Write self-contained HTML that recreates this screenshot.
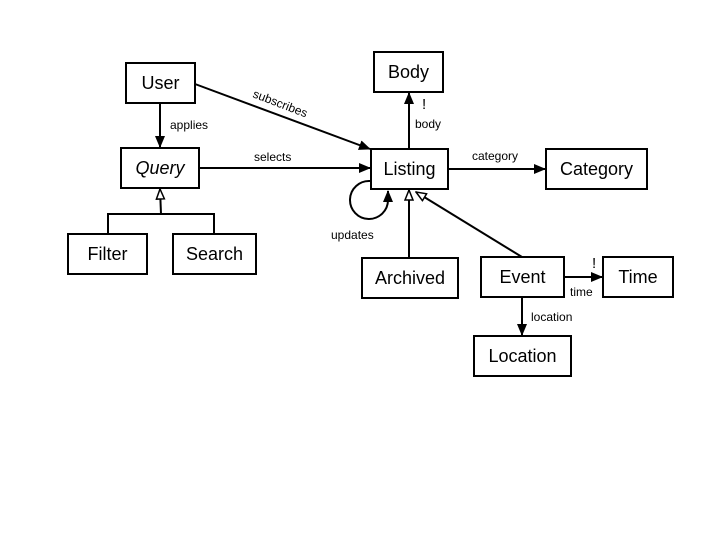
<!DOCTYPE html>
<html><head><meta charset="utf-8"><style>
html,body{margin:0;padding:0;background:#fff}
svg{display:block}
text{font-family:"Liberation Sans","DejaVu Sans",sans-serif}
.n{font-size:18px;text-anchor:middle;dominant-baseline:central}
.l{font-size:12px}
</style></head><body>
<svg width="720" height="540" viewBox="0 0 720 540">
<defs>
<marker id="a" markerWidth="12" markerHeight="10" refX="11" refY="5" orient="auto" markerUnits="userSpaceOnUse"><path d="M0,0 L12,5 L0,10 z" fill="#000"/></marker>
<marker id="h" markerWidth="12" markerHeight="10" refX="11" refY="5" orient="auto" markerUnits="userSpaceOnUse"><path d="M1,1 L11,5 L1,9 z" fill="#fff" stroke="#000" stroke-width="1.5"/></marker>
</defs>
<g fill="#fff" stroke="#000" stroke-width="2">
<rect x="126" y="63" width="69" height="40"/>
<rect x="121" y="148" width="78" height="40"/>
<rect x="68" y="234" width="79" height="40"/>
<rect x="173" y="234" width="83" height="40"/>
<rect x="374" y="52" width="69" height="40"/>
<rect x="371" y="149" width="77" height="40"/>
<rect x="546" y="149" width="101" height="40"/>
<rect x="362" y="258" width="96" height="40"/>
<rect x="481" y="257" width="83" height="40"/>
<rect x="603" y="257" width="70" height="40"/>
<rect x="474" y="336" width="97" height="40"/>
</g>
<g stroke="#000" stroke-width="2" fill="none">
<line x1="160" y1="103" x2="160" y2="147" marker-end="url(#a)"/>
<line x1="195" y1="84" x2="370" y2="149" marker-end="url(#a)"/>
<line x1="199" y1="168" x2="370" y2="168" marker-end="url(#a)"/>
<line x1="409" y1="149" x2="409" y2="93" marker-end="url(#a)"/>
<line x1="448" y1="169" x2="545" y2="169" marker-end="url(#a)"/>
<polyline points="108,234 108,214 214,214 214,234"/>
<line x1="161" y1="214" x2="160" y2="189" marker-end="url(#h)"/>
<line x1="409" y1="258" x2="409" y2="190" marker-end="url(#h)"/>
<line x1="522" y1="257" x2="416" y2="192" marker-end="url(#h)"/>
<line x1="564" y1="277" x2="602" y2="277" marker-end="url(#a)"/>
<line x1="522" y1="297" x2="522" y2="335" marker-end="url(#a)"/>
<path d="M370,181 A19,19 0 1 0 388,200 L388,191" marker-end="url(#a)"/>
</g>
<g class="n">
<text x="160.5" y="83">User</text>
<text x="160" y="168" font-style="italic">Query</text>
<text x="107.5" y="254">Filter</text>
<text x="214.5" y="254">Search</text>
<text x="408.5" y="72">Body</text>
<text x="409.5" y="169">Listing</text>
<text x="596.5" y="169">Category</text>
<text x="410" y="278">Archived</text>
<text x="522.5" y="277">Event</text>
<text x="638" y="277">Time</text>
<text x="522.5" y="356">Location</text>
</g>
<g class="l">
<text x="170" y="129">applies</text>
<text x="252" y="97" transform="rotate(21 252 97)">subscribes</text>
<text x="254" y="161">selects</text>
<text x="415" y="128">body</text>
<text x="422" y="109" font-size="15">!</text>
<text x="472" y="160">category</text>
<text x="331" y="239">updates</text>
<text x="570" y="296">time</text>
<text x="592" y="268" font-size="15">!</text>
<text x="531" y="321">location</text>
</g>
</svg>
</body></html>
